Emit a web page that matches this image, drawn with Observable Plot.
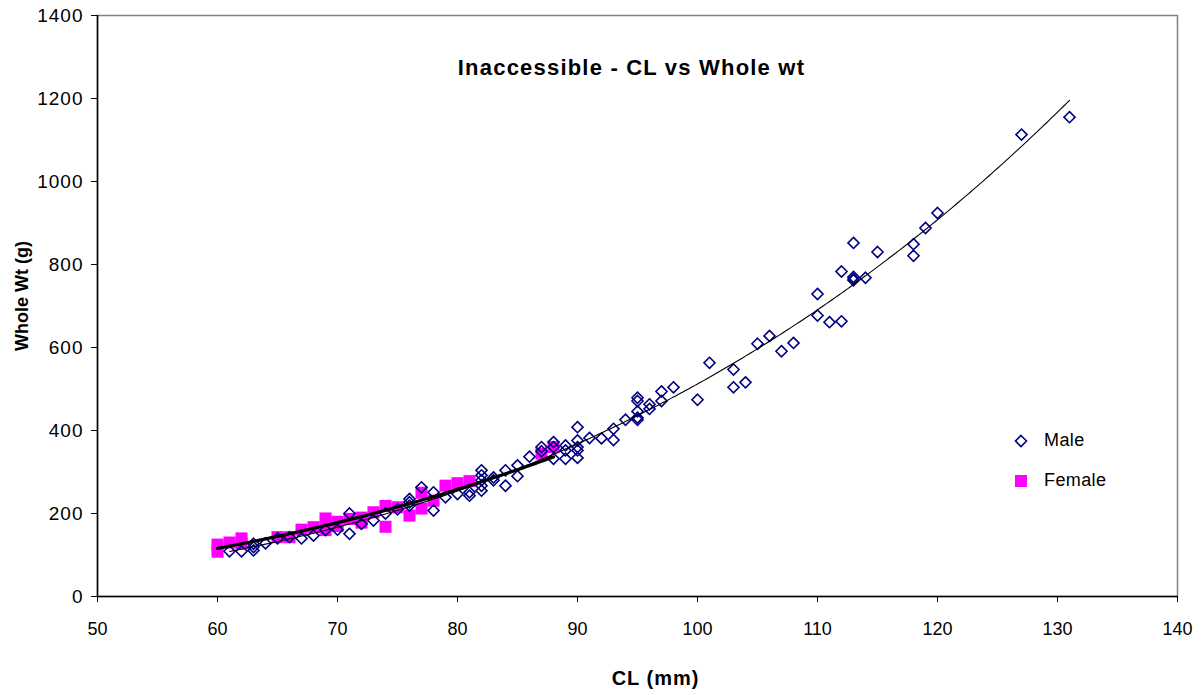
<!DOCTYPE html>
<html>
<head>
<meta charset="utf-8">
<script src="https://cdn.jsdelivr.net/npm/d3@7"></script>
<script src="https://cdn.jsdelivr.net/npm/@observablehq/plot@0.6"></script>
<style>
  html, body { margin: 0; padding: 0; background: #fff; }
  #wrap { position: relative; width: 1204px; height: 695px; font-family: "Liberation Sans", Arial, sans-serif; }
  .leg { position: absolute; font-size: 18px; color: #000; display: flex; align-items: center; letter-spacing: 0.4px; }
  .leg svg { margin-right: 16px; }
</style>
</head>
<body>
<div id="wrap"></div>
<script>
// ---- Data ----
const maleCL = [61,62,63,63,63,64,65,66,67,68,69,70,71,71,72,73,74,75,76,76,76,77,78,78,79,80,81,81,
  82,82,82,82,82,83,83,84,84,85,85,86,87,87,88,88,88,89,89,89,90,90,90,90,90,91,92,93,93,94,
  95,95,95,95,95,96,96,97,97,98,100,101,103,103,104,105,106,107,108,110,110,111,112,112,
  113,113,113,113,114,115,118,118,119,120,127,131];
const maleWt = [109,109,111,119,127,128,140,143,140,147,160,161,151,200,175,183,200,210,235,227,219,263,251,207,239,247,251,243,
  304,292,280,267,255,287,280,304,267,316,290,337,360,350,372,360,332,364,352,332,408,376,360,352,334,382,381,404,377,426,
  479,471,446,431,426,463,452,494,471,504,474,563,547,504,516,609,628,591,611,729,677,661,783,663,
  852,770,765,762,768,830,849,821,888,924,1113,1155];

const femaleCL = [60,60,61,62,62,65,66,67,68,69,69,70,70,71,72,72,73,74,74,75,76,77,77,78,79,80,81,87,88];
const femaleWt = [125,108,130,140,128,143,143,161,167,188,160,180,170,187,190,178,203,218,168,215,195,250,212,231,267,273,278,344,360];

const xTicks = [50,60,70,80,90,100,110,120,130,140];
const yTicks = [0,200,400,600,800,1000,1200,1400];

const titleText = "Inaccessible - CL vs Whole wt";
const xLabel = "CL (mm)";
const yLabel = "Whole Wt (g)";
const seriesNames = ["Male", "Female"];

// ---- Build tables ----
const male = maleCL.map((x, i) => ({x, y: maleWt[i]}));
const female = femaleCL.map((x, i) => ({x, y: femaleWt[i]}));

// power-law trendline y = a x^b fitted in log space (as a spreadsheet "power" trendline)
function powerFit(data) {
  const lx = data.map(d => Math.log(d.x)), ly = data.map(d => Math.log(d.y));
  const mx = d3.mean(lx), my = d3.mean(ly);
  let sxy = 0, sxx = 0;
  lx.forEach((v, i) => { sxy += (v - mx) * (ly[i] - my); sxx += (v - mx) ** 2; });
  const b = sxy / sxx, a = Math.exp(my - b * mx);
  const [x0, x1] = d3.extent(data, d => d.x);
  return d3.range(x0, x1 + 0.001, 0.25).map(x => ({x, y: a * Math.pow(x, b)}));
}
const maleTrend = powerFit(male);
const femaleTrend = powerFit(female);

const FONT = "'Liberation Sans', Arial, sans-serif";

const chart = Plot.plot({
  width: 1204,
  height: 695,
  marginLeft: 97,
  marginRight: 27,
  marginTop: 15,
  marginBottom: 99,
  style: { fontFamily: FONT, background: "#fff", overflow: "visible" },
  x: { domain: [50, 140] },
  y: { domain: [0, 1400] },
  marks: [
    // plot area border (top/right, gray)
    Plot.frame({ stroke: "#808080", strokeWidth: 1.5 }),
    // female squares
    Plot.dot(female, { x: "x", y: "y", symbol: "square", r: 6.8, fill: "#FF00FF", stroke: "none" }),
    // male diamonds
    Plot.dot(male, { x: "x", y: "y", symbol: "diamond2", r: 5, fill: "none", stroke: "#000080", strokeWidth: 1.6 }),
    // trendlines
    Plot.line(femaleTrend, { x: "x", y: "y", stroke: "#000", strokeWidth: 3.2 }),
    Plot.line(maleTrend, { x: "x", y: "y", stroke: "#000", strokeWidth: 1.1 }),
    // axes
    Plot.axisX({ ticks: xTicks, tickSize: 6, tickPadding: 20, fontSize: 18, label: null, stroke: "#000", tickFormat: d => String(d) }),
    Plot.axisY({ ticks: yTicks, tickSize: 6, tickPadding: 8, fontSize: 19, label: null, stroke: "#000", tickFormat: d => String(d) }),
    Plot.ruleX([50], { stroke: "#000", strokeWidth: 1.5 }),
    Plot.ruleY([0], { stroke: "#000", strokeWidth: 1.5 }),
    // title inside plot
    Plot.text([titleText], { frameAnchor: "top", dy: 44, dx: -6, fontSize: 22, fontWeight: "bold", fill: "#000" }),
    // axis titles
    Plot.text([xLabel], { frameAnchor: "bottom", dy: 88, dx: 18, fontSize: 20, fontWeight: "bold", fill: "#000" }),
    Plot.text([yLabel], { frameAnchor: "left", textAnchor: "middle", dx: -75, dy: -10, rotate: -90, fontSize: 18, fontWeight: "bold", fill: "#000" })
  ]
});

// letter spacing tweaks (the reference's text is drawn a little wider)
d3.select(chart).selectAll("text").each(function () {
  const t = this.textContent;
  if (t === titleText) this.style.letterSpacing = "1.2px";
  else if (t === xLabel) this.style.letterSpacing = "1px";
  else if (yTicks.map(String).includes(t)) this.style.letterSpacing = "1px";
});

const wrap = document.getElementById("wrap");
wrap.appendChild(chart);

// legend (HTML overlay)
const legendItems = [
  { name: seriesNames[0], svg: '<svg width="14" height="14"><path d="M7,1.5 L12.5,7 L7,12.5 L1.5,7 Z" fill="none" stroke="#000080" stroke-width="1.6"/></svg>', top: 430 },
  { name: seriesNames[1], svg: '<svg width="14" height="14"><rect x="1" y="1" width="12" height="12" fill="#FF00FF"/></svg>', top: 470 }
];
legendItems.forEach(it => {
  const d = document.createElement("div");
  d.className = "leg";
  d.style.left = "1014px";
  d.style.top = it.top + "px";
  d.innerHTML = it.svg + "<span>" + it.name + "</span>";
  wrap.appendChild(d);
});
</script>
</body>
</html>
